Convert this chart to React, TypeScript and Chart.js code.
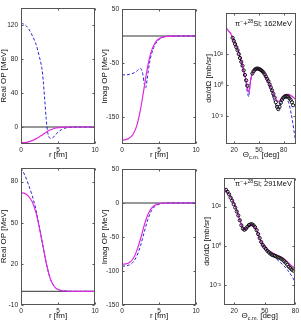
import React, { useEffect, useRef } from "react";
import { Chart, registerables } from "chart.js";

Chart.register(...registerables);

const FONT = "'Liberation Sans', Arial, Helvetica, sans-serif";
const PAGE_W = 301;
const PAGE_H = 323;
const Y_AXIS_W = 16;
const X_AXIS_H = 12;

const MAGENTA = "#e028e0";
const BLUE = "#2424d8";
const ZERO_LINE = "#333333";

// ---- optical potentials, pi- + 28Si at 162 MeV (r in fm, MeV) ----
const r162 = [0, 0.5, 1, 1.5, 2, 2.5, 2.8, 3.0, 3.2, 3.4, 3.6, 3.8, 4.0, 4.3, 4.6, 5, 5.5, 6, 7, 8, 9, 10];
const realFit162 = [-18.5, -18.3, -17.5, -16, -14, -11.5, -9.8, -8.6, -7.4, -6.2, -5.1, -4.1, -3.3, -2.3, -1.5, -0.8, -0.35, -0.15, 0, 0, 0, 0];
const realAlt162 = [122, 120.5, 116, 108, 98, 82, 70, 55, 33, 10, -6, -12, -13.5, -12.5, -10, -6, -3, -1.2, -0.2, 0, 0, 0];
const imagFit162 = [-193, -192, -189, -182, -166, -136, -112, -95, -78, -62, -48, -36, -27, -17, -10, -5, -2, -0.8, -0.1, 0, 0, 0];
const imagAlt162 = [-72, -72, -71, -69, -65, -60, -70, -88, -96, -80, -60, -44, -33, -21, -13, -6.5, -2.5, -1, -0.1, 0, 0, 0];

// ---- optical potentials, pi- + 28Si at 291 MeV ----
const r291 = [0, 0.5, 1, 1.5, 2, 2.5, 3, 3.5, 4, 4.5, 5, 5.5, 6, 7, 8, 9, 10];
const realFit291 = [72, 71.5, 69.5, 65.5, 58, 46, 32, 18.5, 8.5, 3.5, 1.3, 0.5, 0.2, 0, 0, 0, 0];
const realAlt291 = [90, 85, 78, 70, 60, 46.5, 32, 18.5, 8.5, 3.5, 1.3, 0.5, 0.2, 0, 0, 0, 0];
const imagFit291 = [-90, -89.5, -87.5, -82, -70, -53, -33, -17, -7.5, -3, -1.2, -0.4, -0.1, 0, 0, 0, 0];
const imagAlt291 = [-93, -92.5, -91, -87, -78, -63, -43, -24, -11, -4.5, -1.8, -0.7, -0.2, 0, 0, 0, 0];

// ---- differential cross sections (deg, mb/sr) ----
const thetaFit162 = [10, 13, 16, 19, 22, 25, 28, 31, 33, 35, 36.5, 38, 39, 40, 41.5, 43, 45, 48, 51, 54, 57, 60, 63, 66, 69, 72, 74, 76, 78, 80, 83, 86, 89, 92, 95];
const xsFit162 = [5.0e3, 3.16e3, 2.0e3, 891, 398, 158, 44.7, 11.2, 3.98, 1.26, 0.5, 0.355, 0.79, 2.24, 5.0, 7.9, 10.5, 12.0, 11.2, 8.3, 5.0, 2.5, 1.12, 0.45, 0.178, 0.1, 0.089, 0.112, 0.158, 0.209, 0.251, 0.251, 0.209, 0.158, 0.112];
const thetaAlt162 = [10, 13, 16, 19, 22, 25, 28, 31, 33, 35, 36.5, 37.5, 38.5, 40, 41.5, 43, 45, 48, 51, 54, 57, 60, 63, 66, 69, 72, 73.5, 75, 77, 79, 81, 83, 85, 87, 89, 91, 93, 95];
const xsAlt162 = [5.0e3, 3.16e3, 1.9e3, 832, 355, 132, 35.5, 7.9, 2.5, 0.63, 0.25, 0.178, 0.5, 2.0, 5.0, 8.3, 10.5, 11.2, 10, 7.1, 4.0, 1.78, 0.71, 0.25, 0.079, 0.035, 0.028, 0.04, 0.089, 0.141, 0.158, 0.141, 0.1, 0.05, 0.0158, 0.004, 7.9e-4, 1.6e-4];
const thetaData162 = [18, 19.5, 21, 22.5, 24, 25.5, 27, 28.5, 30, 31.5, 33, 34.5, 36, 42, 43.5, 45, 46.5, 48, 49.5, 51, 52.5, 54, 55.5, 57, 58.5, 60, 61.5, 63, 64.5, 66, 67.5, 69, 70.5, 72, 73.5, 75, 76.5, 78, 79.5, 81, 82.5, 84, 85.5, 87, 88.5, 90, 91.5];
const xsData162 = [1120, 708, 447, 282, 178, 100, 56, 31.6, 17.8, 8.9, 4.5, 2.0, 0.89, 5.6, 7.9, 10, 11.2, 11.7, 11.2, 10.5, 9.3, 7.9, 6.6, 5.0, 3.55, 2.5, 1.78, 1.12, 0.71, 0.45, 0.28, 0.158, 0.079, 0.04, 0.028, 0.04, 0.071, 0.112, 0.151, 0.178, 0.19, 0.19, 0.178, 0.141, 0.112, 0.079, 0.05];

const thetaFit291 = [10, 13, 16, 19, 21, 23, 25, 27, 28.5, 30, 31.5, 33, 35, 37, 39, 41, 43, 45, 47, 50, 53, 56, 60, 64, 68, 72, 76, 80];
const xsFit291 = [851, 562, 355, 178, 100, 52.5, 25.1, 12.6, 7.9, 6.6, 7.2, 8.9, 11.2, 12.6, 11.2, 7.9, 4.5, 2.4, 1.41, 0.89, 0.63, 0.5, 0.38, 0.3, 0.234, 0.158, 0.1, 0.071];
const xsAlt291 = [851, 562, 355, 178, 100, 52.5, 25.1, 12.6, 7.9, 6.6, 7.2, 8.9, 11.2, 12.6, 11.2, 7.9, 4.5, 2.4, 1.32, 0.79, 0.52, 0.38, 0.25, 0.166, 0.105, 0.063, 0.032, 0.0141];
const thetaData291 = [12, 13.5, 15, 16.5, 18, 19.5, 21, 22.5, 24, 25.5, 27, 28.5, 30, 31.5, 33, 34.5, 36, 37.5, 39, 40.5, 42, 43.5, 45, 46.5, 48, 49.5, 51, 52.5, 54, 55.5, 57, 58.5, 60, 61.5, 63, 64.5, 66, 67.5, 69, 70.5, 72, 73.5, 75, 76.5, 78];
const xsData291 = [708, 562, 417, 282, 200, 132, 89, 56, 35.5, 20, 11.2, 7.6, 6.6, 7.6, 9.5, 11.5, 12.6, 12.6, 11.2, 8.9, 6.3, 4.0, 2.5, 1.58, 1.12, 0.89, 0.71, 0.56, 0.48, 0.4, 0.355, 0.331, 0.316, 0.282, 0.263, 0.251, 0.224, 0.2, 0.166, 0.141, 0.112, 0.089, 0.076, 0.063, 0.056];

// ---- axis ticks ----
const rTicks = [0, 5, 10];
const realTicks162 = [0, 40, 80, 120];
const imagTicks162 = [-150, -50, 50];
const realTicks291 = [-10, 20, 50, 80];
const imagTicks291 = [-150, -100, -50, 0, 50];
const thetaTicks = [20, 50, 80];
const logTickValues = [1e-2, 1, 1e2];
const logTickLabels = ["10\u207B\u00B2", "10\u2070", "10\u00B2"];

type Seg = { t: string; sup?: boolean; sub?: boolean };
type Area = { left: number; top: number; right: number; bottom: number };
type AxisSpec = { type: "linear" | "logarithmic"; min: number; max: number; ticks: number[]; labels?: string[] };
type PanelSpec = {
  area: Area;
  x: AxisSpec;
  y: AxisSpec;
  datasets: any[];
  xTitle: Seg[];
  yTitle: string;
  note?: { segs: Seg[]; x: number; y: number };
};

const pts = (xs: number[], ys: number[]) => xs.map((x, i) => ({ x, y: ys[i] }));

const solid = (data: any[]) => ({
  data,
  borderColor: MAGENTA,
  borderWidth: 1.2,
  pointRadius: 0,
  cubicInterpolationMode: "monotone",
  fill: false,
  order: 2,
});
const dashed = (data: any[]) => ({
  data,
  borderColor: BLUE,
  borderWidth: 1,
  borderDash: [3, 2],
  pointRadius: 0,
  cubicInterpolationMode: "monotone",
  fill: false,
  order: 3,
});
const zeroLine = () => ({
  data: [{ x: 0, y: 0 }, { x: 10, y: 0 }],
  borderColor: ZERO_LINE,
  borderWidth: 1,
  pointRadius: 0,
  order: 4,
});
const measured = (data: any[]) => ({
  data,
  showLine: false,
  pointStyle: "circle",
  pointRadius: 1.6,
  pointBorderWidth: 1,
  pointBorderColor: "#111111",
  pointBackgroundColor: "rgba(0,0,0,0)",
  order: 1,
});

const rTitle: Seg[] = [{ t: "r [fm]" }];
const thetaTitle: Seg[] = [{ t: "\u0398" }, { t: "c.m.", sub: true }, { t: " [deg]" }];
const noteFor = (energy: string): Seg[] => [
  { t: "\u03C0" },
  { t: "\u2212", sup: true },
  { t: "+" },
  { t: "28", sup: true },
  { t: `Si; ${energy}MeV` },
];

const PANELS: PanelSpec[] = [
  {
    area: { left: 21, top: 8, right: 95, bottom: 144 },
    x: { type: "linear", min: 0, max: 10, ticks: rTicks },
    y: { type: "linear", min: -20, max: 140, ticks: realTicks162 },
    datasets: [solid(pts(r162, realFit162)), dashed(pts(r162, realAlt162)), zeroLine()],
    xTitle: rTitle,
    yTitle: "Real OP [MeV]",
  },
  {
    area: { left: 122, top: 9, right: 196, bottom: 144 },
    x: { type: "linear", min: 0, max: 10, ticks: rTicks },
    y: { type: "linear", min: -200, max: 50, ticks: imagTicks162 },
    datasets: [solid(pts(r162, imagFit162)), dashed(pts(r162, imagAlt162)), zeroLine()],
    xTitle: rTitle,
    yTitle: "Imag OP [MeV]",
  },
  {
    area: { left: 226, top: 13, right: 296, bottom: 144 },
    x: { type: "linear", min: 10, max: 95, ticks: thetaTicks },
    y: { type: "logarithmic", min: Math.pow(10, -3.8), max: Math.pow(10, 4.65), ticks: logTickValues, labels: logTickLabels },
    datasets: [
      measured(pts(thetaData162, xsData162)),
      solid(pts(thetaFit162, xsFit162)),
      dashed(pts(thetaAlt162, xsAlt162)),
    ],
    xTitle: thetaTitle,
    yTitle: "d\u03C3/d\u03A9 [mb/sr]",
    note: { segs: noteFor("162"), x: 235, y: 24 },
  },
  {
    area: { left: 21, top: 168, right: 95, bottom: 305 },
    x: { type: "linear", min: 0, max: 10, ticks: rTicks },
    y: { type: "linear", min: -10, max: 90, ticks: realTicks291 },
    datasets: [solid(pts(r291, realFit291)), dashed(pts(r291, realAlt291)), zeroLine()],
    xTitle: rTitle,
    yTitle: "Real OP [MeV]",
  },
  {
    area: { left: 122, top: 169, right: 196, bottom: 305 },
    x: { type: "linear", min: 0, max: 10, ticks: rTicks },
    y: { type: "linear", min: -150, max: 50, ticks: imagTicks291 },
    datasets: [solid(pts(r291, imagFit291)), dashed(pts(r291, imagAlt291)), zeroLine()],
    xTitle: rTitle,
    yTitle: "Imag OP [MeV]",
  },
  {
    area: { left: 224, top: 178, right: 296, bottom: 305 },
    x: { type: "linear", min: 10, max: 80, ticks: thetaTicks },
    y: { type: "logarithmic", min: Math.pow(10, -3), max: Math.pow(10, 3.45), ticks: logTickValues, labels: logTickLabels },
    datasets: [
      measured(pts(thetaData291, xsData291)),
      solid(pts(thetaFit291, xsFit291)),
      dashed(pts(thetaFit291, xsAlt291)),
    ],
    xTitle: thetaTitle,
    yTitle: "d\u03C3/d\u03A9 [mb/sr]",
    note: { segs: noteFor("291"), x: 235, y: 184 },
  },
];

// Draws a run of text with raised / lowered pieces; returns nothing.
function drawRich(ctx: CanvasRenderingContext2D, segs: Seg[], x: number, y: number, size: number, align: "left" | "center") {
  const small = size * 0.68;
  const fontOf = (s: Seg) => `${s.sup || s.sub ? small : size}px ${FONT}`;
  let total = 0;
  for (const s of segs) {
    ctx.font = fontOf(s);
    total += ctx.measureText(s.t).width;
  }
  let cx = align === "center" ? x - total / 2 : x;
  ctx.textAlign = "left";
  ctx.textBaseline = "middle";
  for (const s of segs) {
    ctx.font = fontOf(s);
    const dy = s.sup ? -size * 0.38 : s.sub ? size * 0.3 : 0;
    ctx.fillText(s.t, cx, y + dy);
    cx += ctx.measureText(s.t).width;
  }
}

function panelPlugin(p: PanelSpec) {
  return {
    id: "panelDecor",
    afterDraw(chart: any) {
      const { ctx, chartArea: a, scales } = chart;
      ctx.save();
      ctx.strokeStyle = "#555555";
      ctx.lineWidth = 1;
      const L = Math.round(a.left) + 0.5;
      const T = Math.round(a.top) + 0.5;
      const R = Math.round(a.right) - 0.5;
      const B = Math.round(a.bottom) - 0.5;
      ctx.strokeRect(L, T, R - L, B - T);
      ctx.beginPath();
      for (const t of scales.x.ticks) {
        const px = Math.round(scales.x.getPixelForValue(t.value)) + 0.5;
        ctx.moveTo(px, B);
        ctx.lineTo(px, B - 2);
        ctx.moveTo(px, T);
        ctx.lineTo(px, T + 2);
      }
      for (const t of scales.y.ticks) {
        const py = Math.round(scales.y.getPixelForValue(t.value)) + 0.5;
        ctx.moveTo(L, py);
        ctx.lineTo(L + 2, py);
        ctx.moveTo(R, py);
        ctx.lineTo(R - 2, py);
      }
      ctx.stroke();

      ctx.fillStyle = "#111111";
      // x axis title
      drawRich(ctx, p.xTitle, (a.left + a.right) / 2, a.bottom + 11, 8, "center");
      // y axis title
      ctx.save();
      ctx.translate(a.left - 17, (a.top + a.bottom) / 2);
      ctx.rotate(-Math.PI / 2);
      ctx.font = `8px ${FONT}`;
      ctx.textAlign = "center";
      ctx.textBaseline = "middle";
      ctx.fillText(p.yTitle, 0, 0);
      ctx.restore();
      if (p.note) drawRich(ctx, p.note.segs, p.note.x, p.note.y, 7.5, "left");
      ctx.restore();
    },
  };
}

function buildConfig(p: PanelSpec): any {
  const tickFont = { family: FONT, size: 6.5 };
  return {
    type: "line",
    data: { datasets: p.datasets },
    options: {
      responsive: false,
      animation: false,
      devicePixelRatio: 1,
      events: [],
      layout: {
        padding: {
          left: p.area.left - Y_AXIS_W,
          top: p.area.top,
          right: PAGE_W - p.area.right,
          bottom: PAGE_H - p.area.bottom - X_AXIS_H,
        },
      },
      plugins: { legend: { display: false }, tooltip: { enabled: false } },
      scales: {
        x: {
          type: p.x.type,
          min: p.x.min,
          max: p.x.max,
          grid: { display: false, drawTicks: false },
          border: { display: false },
          ticks: { padding: 2, maxRotation: 0, autoSkip: false, font: tickFont, color: "#222222" },
          afterBuildTicks: (s: any) => {
            s.ticks = p.x.ticks.map((v) => ({ value: v }));
          },
          afterFit: (s: any) => {
            s.height = X_AXIS_H;
          },
        },
        y: {
          type: p.y.type,
          min: p.y.min,
          max: p.y.max,
          grid: { display: false, drawTicks: false },
          border: { display: false },
          ticks: {
            padding: 3,
            autoSkip: false,
            font: tickFont,
            color: "#222222",
            callback: (v: number) => {
              if (p.y.labels) {
                const i = p.y.ticks.findIndex((t) => Math.abs(Math.log10(t) - Math.log10(v)) < 1e-6);
                return i >= 0 ? p.y.labels[i] : "";
              }
              return String(v);
            },
          },
          afterBuildTicks: (s: any) => {
            s.ticks = p.y.ticks.map((v) => ({ value: v }));
          },
          afterFit: (s: any) => {
            s.width = Y_AXIS_W;
          },
        },
      },
    },
    plugins: [panelPlugin(p)],
  };
}

function Panel({ spec }: { spec: PanelSpec }) {
  const ref = useRef<HTMLCanvasElement>(null);
  useEffect(() => {
    if (!ref.current) return;
    const chart = new Chart(ref.current, buildConfig(spec));
    return () => chart.destroy();
  }, [spec]);
  return (
    <canvas
      ref={ref}
      width={PAGE_W}
      height={PAGE_H}
      style={{ position: "absolute", left: 0, top: 0, width: PAGE_W, height: PAGE_H }}
    />
  );
}

export default function App() {
  return (
    <div style={{ position: "absolute", left: 0, top: 0, width: PAGE_W, height: PAGE_H, background: "#ffffff" }}>
      {PANELS.map((p, i) => (
        <Panel key={i} spec={p} />
      ))}
    </div>
  );
}
